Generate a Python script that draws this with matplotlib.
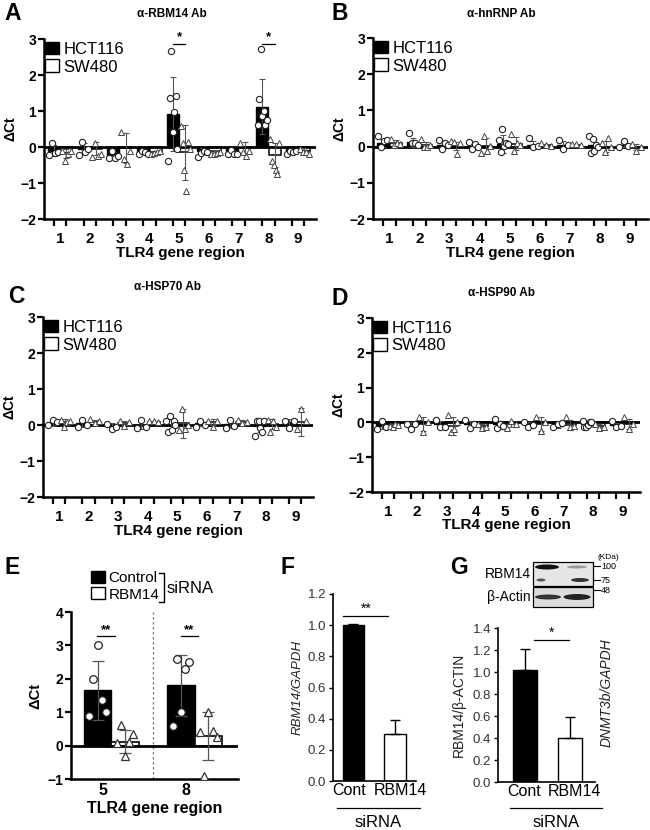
import numpy as np
import matplotlib
matplotlib.use("Agg")
import matplotlib.pyplot as plt
from matplotlib.patches import Patch, Rectangle, Ellipse

plt.rcParams['font.family'] = ['Liberation Sans', 'DejaVu Sans']

regions = [1, 2, 3, 4, 5, 6, 7, 8, 9]
cells = ["HCT116", "SW480"]

# panel A : alpha-RBM14 Ab
a_hct_mean = [-0.1, -0.05, -0.22, -0.12, 0.92, -0.12, -0.15, 1.12, -0.12]
a_hct_sd = [0.15, 0.15, 0.08, 0.05, 1.03, 0.08, 0.07, 0.76, 0.05]
a_sw_mean = [-0.18, -0.05, -0.02, -0.15, -0.15, -0.12, -0.02, -0.22, -0.1]
a_sw_sd = [0.12, 0.18, 0.42, 0.05, 0.77, 0.04, 0.15, 0.33, 0.07]
a_hct_pts = [[-0.22, 0.12, -0.18, -0.15], [-0.22, 0.13, -0.15, -0.05],
             [-0.3, -0.1, -0.3, -0.25], [-0.2, -0.1, -0.15, -0.2],
             [-0.38, 1.35, 2.68, 0.42, 0.97, 1.43, -0.05],
             [-0.28, -0.18, -0.12, -0.15], [-0.2, -0.08, -0.2, -0.2],
             [0.62, 1.32, 2.72, 0.85, 1.0, 0.6, 0.75],
             [-0.2, -0.12, -0.15, -0.1]]
a_sw_pts = [[-0.12, -0.38, -0.2, -0.1], [-0.28, 0.12, -0.25, -0.2],
            [0.42, -0.32, -0.48, -0.1], [-0.2, -0.18, -0.15, -0.1],
            [0.58, 0.1, -0.65, -1.22, 0.15, -0.05],
            [-0.2, -0.2, -0.18, -0.15], [0.12, -0.15, -0.25, -0.1],
            [0.22, -0.4, -0.5, -0.65, -0.75, 0.1],
            [-0.05, -0.15, -0.15, -0.2]]
a_stars = [5, 8]

# panel B : alpha-hnRNP Ab
b_hct_mean = [0.1, 0.12, 0.05, 0.02, 0.08, 0.05, 0.05, 0.05, 0.05]
b_hct_sd = [0.1, 0.12, 0.1, 0.08, 0.25, 0.1, 0.1, 0.15, 0.06]
b_sw_mean = [0.1, 0.05, 0.02, 0.03, 0.08, 0.05, 0.05, 0.0, -0.02]
b_sw_sd = [0.07, 0.08, 0.12, 0.2, 0.18, 0.03, 0.02, 0.15, 0.08]
b_hct_pts = [[0.28, 0.0, 0.15, 0.18], [0.38, 0.1, 0.1, 0.05],
             [0.18, -0.08, 0.1, 0.05], [0.12, -0.08, 0.08, 0.0],
             [0.18, -0.15, 0.5, 0.02, 0.1, 0.08], [0.25, -0.02, 0.03],
             [0.18, -0.08, 0.05], [0.3, -0.18, 0.2, -0.12, 0.05, 0.0],
             [0.0, 0.15, 0.02]]
b_sw_pts = [[0.22, 0.05, 0.1, 0.08], [0.22, 0.0, 0.0, 0.05],
            [0.15, 0.12, -0.2, 0.1], [-0.18, 0.3, -0.12, 0.02],
            [0.35, -0.12, 0.1, 0.05], [0.1, 0.05, 0.02],
            [0.08, 0.08, 0.05], [0.1, -0.15, 0.25, 0.0],
            [0.08, -0.12, 0.0]]

# panel C : alpha-HSP70 Ab
c_hct_mean = [0.05, 0.05, -0.02, 0.0, 0.0, 0.05, 0.03, -0.02, 0.08]
c_hct_sd = [0.07, 0.1, 0.07, 0.1, 0.18, 0.08, 0.1, 0.18, 0.1]
c_sw_mean = [0.08, 0.08, 0.05, 0.08, 0.05, 0.08, 0.08, 0.03, 0.08]
c_sw_sd = [0.08, 0.06, 0.05, 0.02, 0.4, 0.08, 0.05, 0.15, 0.38]
c_hct_pts = [[0.0, 0.15, 0.08], [-0.05, 0.15, 0.0], [0.03, -0.12, -0.05],
             [-0.08, 0.13, -0.05], [0.12, -0.2, 0.25, -0.15, 0.1, 0.0],
             [-0.05, 0.12, 0.0], [-0.08, 0.15, -0.03],
             [-0.3, 0.12, 0.12, -0.08, -0.2, 0.12], [0.12, -0.08, 0.12]]
c_sw_pts = [[0.15, -0.05, 0.08, 0.1], [0.18, 0.05, 0.1], [0.1, -0.02, 0.08],
            [0.12, 0.1, 0.08], [-0.15, 0.45, -0.1, 0.0], [0.12, -0.05, 0.1],
            [0.15, 0.05, 0.08], [0.15, -0.2, 0.1, -0.05], [-0.12, 0.45, 0.1]]

# panel D : alpha-HSP90 Ab
d_hct_mean = [-0.1, -0.05, -0.05, -0.05, -0.05, -0.05, -0.1, -0.05, -0.08]
d_hct_sd = [0.1, 0.07, 0.1, 0.1, 0.1, 0.07, 0.05, 0.08, 0.07]
d_sw_mean = [-0.08, -0.05, -0.1, -0.1, -0.05, -0.05, -0.08, -0.1, -0.05]
d_sw_sd = [0.03, 0.2, 0.25, 0.05, 0.08, 0.2, 0.15, 0.04, 0.15]
d_hct_pts = [[-0.2, 0.03, -0.12], [-0.05, -0.18, -0.05], [0.08, -0.12, -0.12],
             [0.08, -0.15, -0.05], [0.1, -0.15, -0.05, -0.1],
             [0.02, -0.12, -0.08], [-0.12, -0.05, -0.02],
             [0.03, -0.12, -0.12, -0.08, 0.0, 0.02], [0.03, -0.12, -0.1]]
d_sw_pts = [[-0.1, -0.12, -0.05, -0.08], [0.15, -0.28, 0.0],
            [0.2, -0.28, -0.2, 0.0], [-0.05, -0.15, -0.12],
            [-0.15, 0.05, -0.05], [0.15, -0.25, 0.0], [0.15, -0.12, -0.1],
            [-0.05, -0.15, -0.12], [0.15, -0.2, -0.05]]

# panel E : siRNA, regions 5 and 8
e_regions = ["5", "8"]
e_groups = ["Control", "RBM14"]
e_ctrl_mean = [1.65, 1.8]
e_ctrl_sd = [0.87, 0.92]
e_kd_mean = [0.12, 0.28]
e_kd_sd = [0.35, 0.72]
e_ctrl_pts = [[0.88, 2.0, 3.0, 1.38, 1.02], [0.58, 2.6, 1.02, 2.3, 2.5]]
e_kd_pts = [[0.08, 0.62, -0.3, 0.12, 0.35], [0.4, -0.92, 1.02, 0.45, 0.25]]

# panel F : RBM14/GAPDH
f_labels = ["Cont", "RBM14"]
f_mean = [1.0, 0.30]
f_err = [0.005, 0.09]

# panel G : RBM14/beta-ACTIN
g_mean = [1.02, 0.40]
g_err = [0.19, 0.19]

W, H = 650, 830
fig = plt.figure(figsize=(6.5, 8.3), dpi=100)


def rect(l, t, r, b):
    return [l / W, 1 - b / H, (r - l) / W, (b - t) / H]


def style(ax, lw=1.8):
    for s in ("top", "right"):
        ax.spines[s].set_visible(False)
    for s in ("left", "bottom"):
        ax.spines[s].set_linewidth(lw)


def region_panel(r, hm, hs, hp, sm, ss, sp, stars=()):
    ax = fig.add_axes(rect(*r))
    x = np.array(regions, dtype=float)
    off, w = 0.21, 0.4
    ax.bar(x - off, hm, w, color="k", edgecolor="k", lw=1, zorder=2)
    ax.bar(x + off, sm, w, color="w", edgecolor="k", lw=1.1, zorder=2)
    ax.axhline(0, color="k", lw=2, zorder=2.5)
    ax.errorbar(x - off, hm, yerr=hs, fmt="none", ecolor="#555", elinewidth=0.8,
                capsize=2.2, capthick=0.8, zorder=3)
    ax.errorbar(x + off, sm, yerr=ss, fmt="none", ecolor="#555", elinewidth=0.8,
                capsize=2.2, capthick=0.8, zorder=3)
    for i in range(len(regions)):
        xs = x[i] - off + np.linspace(-0.15, 0.15, len(hp[i]))
        ax.plot(xs, hp[i], "o", mfc="w", mec="#222", ms=4.5, mew=0.8, zorder=4)
        xs = x[i] + off + np.linspace(-0.15, 0.15, len(sp[i]))
        ax.plot(xs, sp[i], "^", mfc="w", mec="#444", ms=4.0, mew=0.7, zorder=4)
    for s in stars:
        ax.plot([s - off, s + off], [2.87, 2.87], color="k", lw=0.9)
        ax.text(s, 2.88, "*", ha="center", va="bottom", fontsize=9.5,
                fontweight="bold")
    ax.set_xlim(0.46, 9.6)
    ax.set_ylim(-2, 3)
    ax.set_yticks(range(-2, 4))
    ax.set_xticks(x)
    ax.set_xticklabels([str(v) for v in regions])
    ax.set_xticks(np.concatenate([x - off, x + off]), minor=True)
    ax.tick_params(axis="x", which="major", length=0, pad=9, labelsize=11)
    ax.tick_params(axis="x", which="minor", length=5, width=1.6)
    ax.tick_params(axis="y", length=4, width=1.6, labelsize=10, pad=1.5)
    for lab in ax.get_xticklabels() + ax.get_yticklabels():
        lab.set_fontweight("bold")
    ax.set_xlabel("TLR4 gene region", fontsize=11, fontweight="bold", labelpad=0)
    ax.set_ylabel("ΔCt", fontsize=10, fontweight="bold", labelpad=2)
    style(ax)
    ax.legend(handles=[Patch(fc="k", ec="k"), Patch(fc="w", ec="k", lw=1)],
              labels=cells, loc="upper left", bbox_to_anchor=(0.005, 0.985),
              frameon=False, fontsize=12, handlelength=0.8, handleheight=0.8,
              handletextpad=0.3, labelspacing=0.15, borderpad=0, borderaxespad=0)
    return ax


region_panel((44, 39, 316, 219), a_hct_mean, a_hct_sd, a_hct_pts,
             a_sw_mean, a_sw_sd, a_sw_pts, a_stars)
region_panel((373, 38, 648, 219), b_hct_mean, b_hct_sd, b_hct_pts,
             b_sw_mean, b_sw_sd, b_sw_pts)
region_panel((43, 317, 313, 497), c_hct_mean, c_hct_sd, c_hct_pts,
             c_sw_mean, c_sw_sd, c_sw_pts)
region_panel((372, 318, 640, 492), d_hct_mean, d_hct_sd, d_hct_pts,
             d_sw_mean, d_sw_sd, d_sw_pts)

# panel E
ax = fig.add_axes(rect(71, 612, 238, 779))
xe = np.arange(len(e_regions), dtype=float)
off, w = 0.165, 0.33
ax.bar(xe - off, e_ctrl_mean, w, color="k", edgecolor="k", zorder=2)
ax.bar(xe + off, e_kd_mean, w, color="w", edgecolor="k", lw=1.2, zorder=2)
ax.axhline(0, color="k", lw=2, zorder=2.5)
ax.errorbar(xe - off, e_ctrl_mean, yerr=e_ctrl_sd, fmt="none", ecolor="#555",
            elinewidth=0.9, capsize=4, capthick=0.9, zorder=3)
ax.errorbar(xe + off, e_kd_mean, yerr=e_kd_sd, fmt="none", ecolor="#555",
            elinewidth=0.9, capsize=4, capthick=0.9, zorder=3)
for i in range(len(e_regions)):
    xs = xe[i] - off + np.linspace(-0.1, 0.1, len(e_ctrl_pts[i]))
    ax.plot(xs, e_ctrl_pts[i], "o", mfc="w", mec="#222", ms=5.5, mew=0.9, zorder=4)
    xs = xe[i] + off + np.linspace(-0.1, 0.1, len(e_kd_pts[i]))
    ax.plot(xs, e_kd_pts[i], "^", mfc="w", mec="#333", ms=6, mew=0.9, zorder=4)
    ax.plot([xe[i] - 0.17, xe[i] + 0.04], [3.27, 3.27], color="k", lw=0.9)
    ax.text(xe[i] - 0.065, 3.28, "**", ha="center", va="bottom", fontsize=9.5,
            fontweight="bold")
ax.axvline(0.5, color="#777", lw=0.9, ls=(0, (2, 2)), zorder=1)
ax.set_xlim(-0.485, 1.52)
ax.set_ylim(-1, 4)
ax.set_yticks(range(-1, 5))
ax.set_xticks(xe - 0.1)
ax.set_xticklabels(e_regions)
ax.tick_params(axis="x", length=0, pad=3, labelsize=11.5)
ax.tick_params(axis="y", length=4, width=1.6, labelsize=10, pad=1.5)
for lab in ax.get_xticklabels() + ax.get_yticklabels():
    lab.set_fontweight("bold")
ax.set_xlabel("TLR4 gene region", fontsize=11.5, fontweight="bold", labelpad=2)
ax.set_ylabel("ΔCt", fontsize=10.5, fontweight="bold", labelpad=4)
style(ax)
ax.legend(handles=[Patch(fc="k", ec="k"), Patch(fc="w", ec="k", lw=1)],
          labels=e_groups, loc="upper left", bbox_to_anchor=(91 / W, 1 - 571 / H),
          bbox_transform=fig.transFigure, frameon=False, fontsize=11,
          handlelength=0.9, handleheight=0.85, handletextpad=0.25,
          labelspacing=0.12, borderpad=0, borderaxespad=0)


def bar2(r, means, errs, ylim, yticks, star_y, star, star_x, lab_shift):
    ax = fig.add_axes(rect(*r))
    xb = np.arange(len(means), dtype=float)
    ax.bar(xb, means, 0.52, color=["k", "w"], edgecolor="k", lw=1, zorder=2)
    ax.errorbar(xb, means, yerr=[[0] * len(errs), errs], fmt="none", ecolor="k",
                elinewidth=1, capsize=3.5, capthick=1, zorder=3)
    ax.plot(star_x, [star_y, star_y], color="k", lw=0.9)
    ax.text(np.mean(star_x), star_y + 0.005, star, ha="center", va="bottom",
            fontsize=10)
    ax.set_ylim(*ylim)
    ax.set_yticks(yticks)
    ax.set_yticklabels(["%.1f" % v for v in yticks])
    ax.set_xticks([])
    for xi, lab, sh in zip(xb, f_labels, lab_shift):
        ax.text(xi + sh, -0.012, lab, transform=ax.get_xaxis_transform(),
                ha="center", va="top", fontsize=11.5)
    ax.tick_params(axis="y", length=3, width=1, labelsize=9.5, labelcolor="#333",
                   pad=2)
    style(ax, lw=1.2)
    return ax


ax = bar2((333, 594, 416, 781), f_mean, f_err, (0, 1.2),
          [0.0, 0.2, 0.4, 0.6, 0.8, 1.0, 1.2], 1.058, "**", [-0.24, 0.84],
          [-0.1, 0.12])
ax.set_xlim(-0.49, 1.5)
ax.set_ylabel("RBM14/GAPDH", fontsize=9.5, style="italic", color="#222",
              labelpad=3)

ax = bar2((498, 628, 595, 782), g_mean, g_err, (0, 1.4),
          [0.0, 0.2, 0.4, 0.6, 0.8, 1.0, 1.2, 1.4], 1.29, "*", [0.2, 0.98],
          [-0.02, 1 / 9])
ax.set_xlim(-0.6, 1.56)
ax.set_ylabel("RBM14/β-ACTIN", fontsize=10, color="#222", labelpad=5)

# overlay for letters, titles and annotations (pixel coords)
ov = fig.add_axes([0, 0, 1, 1])
ov.set_xlim(0, W)
ov.set_ylim(H, 0)
ov.axis("off")

for letter, px, py in [("A", 13, 13), ("B", 340, 13), ("C", 16, 296),
                       ("D", 340, 298), ("E", 12, 567), ("F", 288, 567),
                       ("G", 459, 567)]:
    ov.text(px, py, letter, ha="center", va="center", fontsize=16.5,
            fontweight="bold")
for title, px, py in [("α-RBM14 Ab", 172, 14), ("α-hnRNP Ab", 501, 14),
                      ("α-HSP70 Ab", 168, 287), ("α-HSP90 Ab", 502, 293)]:
    ov.text(px, py, title, ha="center", va="center", fontsize=8.5,
            fontweight="bold")

# siRNA bracket of panel E
ov.plot([159, 164, 164, 159], [573, 573, 602, 602], color="k", lw=1)
ov.text(167, 588, "siRNA", ha="left", va="center", fontsize=12)

# siRNA underlines of F and G
ov.plot([337, 420], [808, 808], color="k", lw=0.9)
ov.text(378, 822, "siRNA", ha="center", va="center", fontsize=12)
ov.plot([510, 602], [808, 808], color="k", lw=0.9)
ov.text(556, 822, "siRNA", ha="center", va="center", fontsize=12)

ov.text(607, 693, "DNMT3b/GAPDH", rotation=90, ha="center", va="center",
        fontsize=10, style="italic", color="#222")

# western blot of panel G
ov.add_patch(Rectangle((533, 562), 60, 24, fc="#e6e6e6", ec="k", lw=0.9))
ov.add_patch(Rectangle((533, 587), 60, 20, fc="#dcdcdc", ec="k", lw=0.9))
for cx, cy, bw, bh, c in [(547, 567, 24, 5, "#111"), (541, 580, 9, 3, "#555"),
                          (577, 567, 20, 3, "#999"), (580, 580, 18, 4, "#333"),
                          (548, 597, 26, 5, "#333"), (577, 597, 27, 6, "#222")]:
    ov.add_patch(Ellipse((cx, cy), bw, bh, fc=c, ec="none"))
for ty, lab in [(566, "100"), (580, "75"), (590, "48")]:
    ov.plot([593, 600], [ty, ty], color="k", lw=0.8)
    ov.text(601, ty, lab, ha="left", va="center", fontsize=6.5)
ov.text(598, 557, "(KDa)", ha="left", va="center", fontsize=6)
ov.text(531, 574, "RBM14", ha="right", va="center", fontsize=10)
ov.text(531, 597, "β-Actin", ha="right", va="center", fontsize=10)

fig.savefig("out.png", dpi=100)
